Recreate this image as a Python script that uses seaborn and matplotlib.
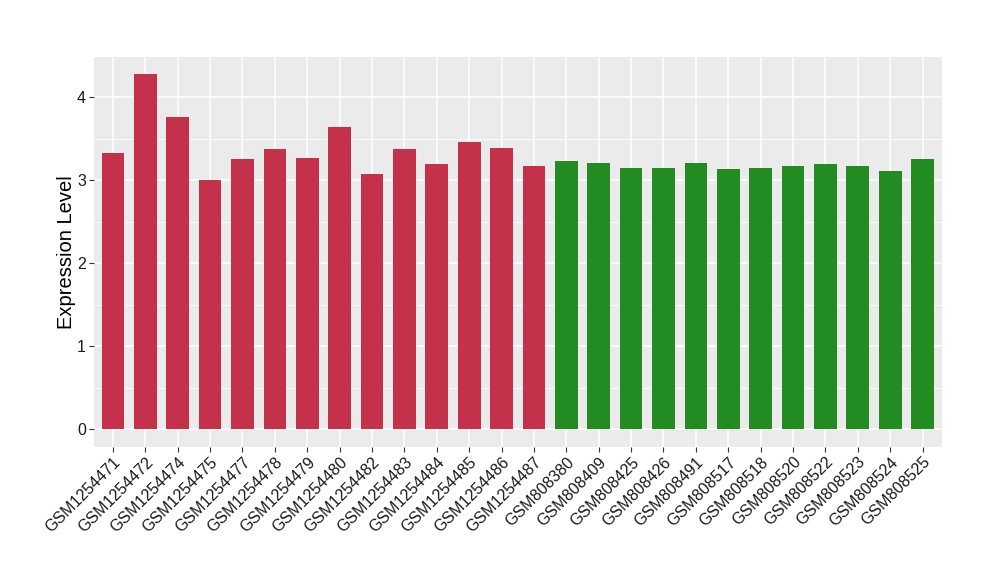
import pandas as pd
import matplotlib
matplotlib.use("Agg")
import matplotlib.pyplot as plt
import seaborn as sns
from matplotlib.ticker import MultipleLocator

# Sample names and expression values
samples = ['GSM1254471', 'GSM1254472', 'GSM1254474', 'GSM1254475', 'GSM1254477',
           'GSM1254478', 'GSM1254479', 'GSM1254480', 'GSM1254482', 'GSM1254483',
           'GSM1254484', 'GSM1254485', 'GSM1254486', 'GSM1254487',
           'GSM808380', 'GSM808409', 'GSM808425', 'GSM808426', 'GSM808491',
           'GSM808517', 'GSM808518', 'GSM808520', 'GSM808522', 'GSM808523',
           'GSM808524', 'GSM808525']
values = [3.33, 4.275, 3.765, 3.005, 3.26, 3.38, 3.27, 3.635, 3.08, 3.37,
          3.20, 3.455, 3.39, 3.165,
          3.225, 3.21, 3.15, 3.15, 3.21, 3.13, 3.15, 3.175, 3.19, 3.165,
          3.115, 3.25]
groups = ['case'] * 14 + ['control'] * 12
group_colors = {'case': '#C3324A', 'control': '#228B22'}

df = pd.DataFrame({'sample': samples, 'value': values, 'group': groups})

sns.set_theme(style='darkgrid')
plt.rcParams['font.family'] = ['Liberation Sans', 'DejaVu Sans']

fig = plt.figure(figsize=(10, 5.8), dpi=100)
ax = fig.add_axes([0.0935, 0.2298, 0.8485, 0.6725])
ax.set_facecolor('#EBEBEB')

sns.barplot(data=df, x='sample', y='value', hue='group', palette=group_colors,
            width=0.7, dodge=False, legend=False, saturation=1,
            linewidth=0, edgecolor='none', ax=ax)

ymax = max(values)
ax.set_ylim(-0.05 * ymax, ymax * 1.05)
ax.set_xlim(-0.6, len(samples) - 0.4)

ax.yaxis.set_major_locator(MultipleLocator(1))
ax.yaxis.set_minor_locator(MultipleLocator(0.5))
ax.grid(which='major', color='white', linewidth=1.1)
ax.grid(which='minor', axis='y', color='white', linewidth=0.55)
ax.set_axisbelow(True)
for s in ax.spines.values():
    s.set_visible(False)

ax.tick_params(axis='both', which='major', length=3.5, width=0.8, color='#333333',
               labelsize=11.5, labelcolor='#1a1a1a', pad=2, bottom=True, left=True)
ax.tick_params(axis='y', which='minor', length=0)
plt.setp(ax.get_xticklabels(), rotation=45, ha='right', va='top',
         rotation_mode='anchor')

ax.set_xlabel('')
ax.set_ylabel('Expression Level', fontsize=14.5, color='black', labelpad=0.5)

fig.savefig('out.png', dpi=100, facecolor='white')
